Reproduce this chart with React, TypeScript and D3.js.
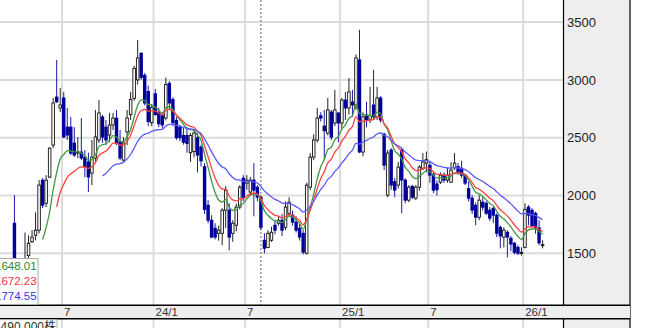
import React from "react";
import * as d3 from "d3";

// Weekly OHLC (index 0 = first weekly bar)
const opens = [
  1760, 1420, 1380, 1400, 1480, 1600, 1656, 1700, 2133, 1933,
  2159, 2436, 2852, 2757, 2844, 2592, 2592, 2454, 2367, 2376,
  2332, 2290, 2194, 2324, 2480, 2680, 2592, 2523, 2610, 2670,
  2462, 2306, 2550, 2700, 2840, 3000, 3230, 3040, 2900, 2630,
  2880, 2720, 2690, 2670, 2970, 2830, 2650, 2590, 2520, 2520,
  2370, 2380, 2500, 2420, 2250, 1916, 1786, 1717, 1673, 1673,
  1873, 1873, 1673, 1743, 1900, 2150, 2107, 2030, 2133, 2072,
  1985, 1613, 1550, 1613, 1743, 1760, 1786, 1725, 1846, 1830,
  1770, 1717, 1673, 1500, 2072, 2332, 2480, 2690, 2600, 2540,
  2722, 2627, 2714, 2627, 2826, 2757, 2809, 2766, 3173, 2376,
  2696, 2660, 2783, 2680, 2844, 2530, 2003, 2393, 2120, 2090,
  2393, 2133, 1960, 2080, 1977, 2072, 2236, 2280, 2262, 2180,
  2100, 2115, 2176, 2133, 2115, 2240, 2250, 2236, 2176, 2060,
  1977, 1916, 1812, 1942, 1933, 1873, 1890, 1830, 1725, 1640,
  1682, 1630, 1587, 1552, 1500, 1552, 1900, 1873, 1846, 1720,
  1570,
];
const highs = [
  2003, 1450, 1440, 1680, 1656, 1700, 1855, 2133, 2150, 2176,
  2415, 2844, 3173, 2930, 2896, 2757, 2679, 2592, 2505, 2670,
  2393, 2370, 2480, 2740, 2826, 2696, 2653, 2714, 2714, 2740,
  2566, 2505, 2740, 2896, 3120, 3345, 3240, 3060, 2950, 2790,
  2920, 2760, 2720, 3020, 2990, 2850, 2680, 2610, 2590, 2590,
  2540, 2570, 2540, 2440, 2280, 1960, 1830, 1760, 1740, 1890,
  2080, 1933, 1786, 1930, 2090, 2176, 2176, 2160, 2280, 2090,
  2000, 1673, 1700, 1730, 1786, 1820, 1840, 1950, 1985, 1870,
  1820, 1760, 1700, 2110, 2367, 2530, 2757, 2720, 2740, 2844,
  2740, 2913, 2720, 2844, 2896, 3017, 2913, 3220, 3433, 2720,
  2810, 2940, 3087, 2940, 2860, 2545, 2393, 2410, 2150, 2290,
  2410, 2150, 2090, 2090, 2090, 2262, 2367, 2380, 2300, 2200,
  2130, 2200, 2200, 2240, 2290, 2367, 2280, 2300, 2180, 2120,
  2003, 1940, 2003, 1985, 1950, 1900, 1900, 1846, 1740, 1725,
  1700, 1650, 1600, 1570, 1552, 1933, 1916, 1890, 1860, 1786,
  1613,
];
const lows = [
  1380, 1350, 1360, 1390, 1460, 1590, 1613, 1673, 1890, 1900,
  2150, 2410, 2800, 2722, 2497, 2480, 2350, 2332, 2324, 2306,
  2159, 2030, 2090, 2290, 2454, 2454, 2436, 2462, 2566, 2436,
  2306, 2290, 2436, 2653, 2820, 2960, 3000, 2780, 2600, 2600,
  2690, 2590, 2580, 2650, 2740, 2600, 2480, 2470, 2440, 2370,
  2290, 2330, 2200, 2250, 1840, 1760, 1630, 1620, 1610, 1569,
  1720, 1526, 1600, 1690, 1880, 1950, 2050, 2000, 1820, 1950,
  1700, 1500, 1545, 1600, 1665, 1740, 1650, 1700, 1820, 1740,
  1680, 1610, 1490, 1490, 2046, 2306, 2460, 2640, 2306, 2520,
  2480, 2600, 2460, 2580, 2653, 2700, 2680, 2740, 2367, 2340,
  2590, 2627, 2653, 2653, 2630, 2220, 1985, 2050, 1985, 2060,
  1846, 1933, 1942, 1970, 1960, 2040, 2220, 2200, 2110, 2020,
  2000, 2100, 2110, 2110, 2110, 2220, 2180, 2150, 2090, 1950,
  1840, 1743, 1786, 1870, 1830, 1780, 1760, 1640, 1543, 1550,
  1465, 1520, 1490, 1485, 1480, 1543, 1743, 1743, 1670, 1570,
  1543,
];
const closes = [
  1420, 1380, 1400, 1440, 1587, 1640, 1700, 2090, 1916, 2133,
  2410, 2800, 2810, 2783, 2505, 2523, 2367, 2350, 2376, 2324,
  2246, 2160, 2332, 2506, 2714, 2505, 2480, 2610, 2670, 2454,
  2324, 2454, 2670, 2830, 3100, 3190, 3020, 2800, 2640, 2760,
  2700, 2620, 2610, 2960, 2800, 2630, 2500, 2500, 2460, 2450,
  2520, 2540, 2350, 2300, 1880, 1786, 1640, 1640, 1700, 1873,
  2046, 1640, 1760, 1900, 2072, 1985, 2133, 2133, 2046, 1985,
  1725, 1543, 1673, 1682, 1700, 1786, 1700, 1900, 1942, 1770,
  1700, 1640, 1510, 2090, 2332, 2480, 2670, 2670, 2560, 2740,
  2505, 2740, 2627, 2826, 2757, 2896, 2783, 3190, 2376, 2680,
  2653, 2690, 2680, 2844, 2653, 2262, 2367, 2090, 2046, 2246,
  2133, 1960, 2072, 1985, 2072, 2246, 2290, 2310, 2176, 2046,
  2050, 2176, 2133, 2176, 2220, 2280, 2200, 2176, 2107, 1977,
  1873, 1812, 1960, 1899, 1846, 1804, 1830, 1673, 1650, 1700,
  1640, 1580, 1508, 1500, 1508, 1880, 1830, 1740, 1720, 1590,
  1575,
];

const maPeriods = [9, 13, 26];
const maColors = ["#3f983f", "#ff4040", "#5a5aff"];
const maLegendValues = ["1648.01", "1672.23", "1774.55"];
const maLegendColors = ["#2a8a2a", "#f03535", "#3535f0"];

const yTicks = [1500, 2000, 2500, 3000, 3500];
const xTickIndex = [14, 40, 66, 93, 118, 145];
const xTickLabels = ["7", "24/1", "7", "25/1", "7", "26/1"];
const markerIndex = 70;
const volumeLabel = "490,000株";

const W = 657;
const H = 328;
const plotRight = 563;
const panelRight = 630;
const plotBottom = 305;
const bandBottom = 319;
const FONT = "'Liberation Sans', Arial, 'Noto Sans CJK JP', sans-serif";

// exponential moving average, seeded with the simple average of the first n closes
function ema(values: number[], n: number): (number | null)[] {
  const out: (number | null)[] = [];
  const a = 2 / (n + 1);
  let prev = 0;
  values.forEach((v, i) => {
    if (i < n - 1) {
      out.push(null);
    } else if (i === n - 1) {
      prev = d3.mean(values.slice(0, n)) as number;
      out.push(prev);
    } else {
      prev = prev + a * (v - prev);
      out.push(prev);
    }
  });
  return out;
}

export default function App() {
  const x = d3.scaleLinear().domain([-4.1, 155.8]).range([0, plotRight]);
  const y = d3.scaleLinear().domain([1053, 3691]).range([plotBottom, 0]);
  const step = x(1) - x(0);
  const bodyW = step * 0.72;

  const bars = closes.map((c, i) => ({
    i,
    o: opens[i],
    h: highs[i],
    l: lows[i],
    c,
  }));

  const maLines = maPeriods.map((p, k) => {
    const vals = ema(closes, p);
    const line = d3
      .line<number | null>()
      .defined((d) => d != null)
      .x((_, i) => x(i))
      .y((d) => y(d as number))
      .curve(d3.curveMonotoneX);
    return { d: line(vals) || "", color: maColors[k] };
  });

  const gridX = xTickIndex.map((idx) => x(idx - 0.5));

  return (
    <svg
      width={W}
      height={H}
      style={{ position: "fixed", left: 0, top: 0, background: "#fff" }}
      fontFamily={FONT}
    >
      <defs>
        <clipPath id="plotClip">
          <rect x={0} y={0} width={plotRight} height={plotBottom} />
        </clipPath>
      </defs>
      <rect x={0} y={0} width={W} height={H} fill="#fff" />

      {/* right axis panel */}
      <rect x={plotRight} y={0} width={panelRight - plotRight} height={H} fill="#eeeeee" />

      {/* horizontal grid */}
      {yTicks.map((t) => (
        <line key={t} x1={0} x2={plotRight} y1={y(t)} y2={y(t)} stroke="#dcdcdc" strokeWidth={2} />
      ))}
      {/* vertical grid */}
      {gridX.map((gx, i) => (
        <g key={i}>
          <line x1={gx} x2={gx} y1={0} y2={plotBottom} stroke="#dcdcdc" strokeWidth={2} />
          <line x1={gx} x2={gx} y1={bandBottom} y2={H} stroke="#dcdcdc" strokeWidth={2} />
        </g>
      ))}
      {/* marker dotted line */}
      <line
        x1={x(markerIndex)}
        x2={x(markerIndex)}
        y1={0}
        y2={plotBottom}
        stroke="#666"
        strokeWidth={1}
        strokeDasharray="2,2"
      />

      <g clipPath="url(#plotClip)">
        {bars.map((b) => {
          const up = b.c >= b.o;
          const cx = x(b.i);
          const top = y(Math.max(b.o, b.c));
          const bot = y(Math.min(b.o, b.c));
          const hgt = Math.max(1, bot - top);
          return (
            <g key={b.i}>
              <line
                x1={cx}
                x2={cx}
                y1={y(b.h)}
                y2={y(b.l)}
                stroke={up ? "#222" : "#1a1aa8"}
                strokeWidth={1}
              />
              {up ? (
                <rect
                  x={cx - bodyW / 2}
                  y={top}
                  width={bodyW}
                  height={hgt}
                  fill="#fff"
                  stroke="#111"
                  strokeWidth={0.9}
                />
              ) : (
                <rect
                  x={cx - (bodyW + 0.9) / 2}
                  y={top - 0.45}
                  width={bodyW + 0.9}
                  height={hgt + 0.9}
                  fill="#00009c"
                />
              )}
            </g>
          );
        })}
        {maLines.map((m, k) => (
          <path key={k} d={m.d} fill="none" stroke={m.color} strokeWidth={1.3} />
        ))}
      </g>

      {/* right axis border and labels */}
      <line x1={plotRight + 0.5} x2={plotRight + 0.5} y1={0} y2={plotBottom} stroke="#000" strokeWidth={1.2} />
      <line x1={plotRight + 0.5} x2={plotRight + 0.5} y1={bandBottom} y2={H} stroke="#000" strokeWidth={1.2} />
      <line x1={panelRight} x2={panelRight} y1={0} y2={H} stroke="#000" strokeWidth={1.2} />
      {yTicks.map((t) => (
        <text key={t} x={567} y={y(t)} dy="0.36em" fontSize={13} fill="#222">
          {t}
        </text>
      ))}

      {/* x axis band */}
      <rect x={0} y={plotBottom} width={panelRight} height={bandBottom - plotBottom} fill="#eeeeee" />
      <line x1={0} x2={panelRight} y1={plotBottom + 0.3} y2={plotBottom + 0.3} stroke="#000" strokeWidth={1.4} />
      <line x1={0} x2={panelRight} y1={bandBottom - 0.2} y2={bandBottom - 0.2} stroke="#000" strokeWidth={1.4} />
      {gridX.map((gx, i) => (
        <text key={i} x={gx + 2} y={316} fontSize={11.5} fill="#333">
          {xTickLabels[i]}
        </text>
      ))}

      {/* MA legend box */}
      <rect x={-1} y={258.5} width={39} height={46} fill="#fff" stroke="#aaa" strokeWidth={1} />
      {maLegendValues.map((v, k) => (
        <text key={k} x={36.6} y={270 + k * 15.2} textAnchor="end" fontSize={11.5} fill={maLegendColors[k]}>
          {v}
        </text>
      ))}

      {/* volume label box */}
      <rect x={-1} y={bandBottom + 0.5} width={58} height={20} fill="#fff" stroke="#aaa" strokeWidth={1} />
      <text x={56} y={331} textAnchor="end" fontSize={12} fill="#333">
        {volumeLabel}
      </text>
    </svg>
  );
}
